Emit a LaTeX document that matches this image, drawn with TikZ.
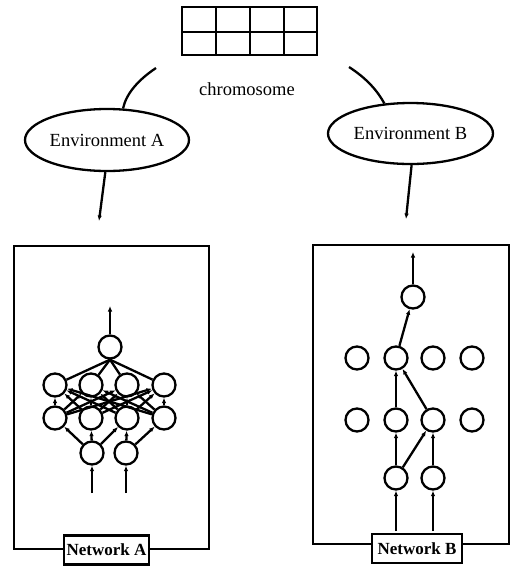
\documentclass[tikz,border=0pt]{standalone}
\usepackage{fontspec}
\setmainfont{Liberation Serif}
\usetikzlibrary{arrows.meta,shapes.geometric}
\begin{document}
\begin{tikzpicture}[x=1pt,y=-1pt,
  lw/.style={line width=2.3pt},
  env/.style={ellipse,draw,lw,inner sep=0pt,font=\fontsize{18.5}{21}\selectfont},
  neuron/.style={circle,draw,lw,minimum size=23pt,inner sep=0pt},
  conn/.style={lw,-{Latex[length=5.5pt,width=4.5pt]}},
  plain/.style={lw},
  netbox/.style={draw,line width=2.6pt},
  netlabel/.style={draw,line width=2.3pt,fill=white,inner sep=2pt,minimum height=29pt,font=\fontsize{17}{19}\bfseries\selectfont}
]
\useasboundingbox (0,0) rectangle (515,566);

% chromosome
\draw[line width=2pt] (182,7) rectangle (317,55);
\draw[line width=2pt] (216,7) -- (216,55) (250,7) -- (250,55) (284,7) -- (284,55) (182,32) -- (317,32);
\node[font=\fontsize{18.5}{21}\selectfont] (chrom) at (247,89) {chromosome};

% environments
\node[env,minimum width=164pt,minimum height=62pt] (envA) at (107,140) {Environment A};
\node[env,minimum width=165pt,minimum height=61pt] (envB) at (410.5,133.5) {Environment B};
\coordinate (cl) at (156,68);
\coordinate (cr) at (349,67);
\draw[plain] (cl) .. controls (138,80) and (126,94) .. (envA.63);
\draw[plain] (cr) .. controls (366,78) and (377,90) .. (envB.131);
\coordinate (ta) at (99,221);
\coordinate (tb) at (406,219);
\draw[conn] (envA.267) -- (ta);
\draw[conn] (envB.272) -- (tb);

% boxes
\coordinate (a1) at (14,246); \coordinate (a2) at (209,549);
\coordinate (b1) at (313,245); \coordinate (b2) at (509,544);
\draw[netbox] (a1) rectangle (a2);
\draw[netbox] (b1) rectangle (b2);
\node[netlabel,minimum width=85pt] (labA) at (106.5,550) {Network A};
\node[netlabel,minimum width=90pt] (labB) at (417,548.5) {Network B};

% Network A
\node[neuron] (Ao) at (110,347) {};
\foreach \x [count=\i] in {55,91,127,164} {
  \node[neuron] (Ah\i) at (\x,385) {};
  \node[neuron] (Ag\i) at (\x,418) {};
}
\node[neuron] (Ai1) at (92,453) {};
\node[neuron] (Ai2) at (126,453) {};
\coordinate (Ain1) at (92,493);
\coordinate (Ain2) at (126,493);
\coordinate (Aout) at (110,306);
\draw[conn] (Ain1) -- (Ai1);
\draw[conn] (Ain2) -- (Ai2);
\draw[conn] (Ai1) -- (Ag1);
\draw[conn] (Ai1) -- (Ag2);
\draw[conn] (Ai1) -- (Ag3);
\draw[conn] (Ai2) -- (Ag3);
\draw[conn] (Ai2) -- (Ag4);
\foreach \i in {1,...,4} {
  \foreach \j in {1,...,4} {
    \draw[conn] (Ag\i) -- (Ah\j);
  }
  \draw[plain] (Ah\i) -- (Ao.south);
}
\draw[conn] (Ao) -- (Aout);

% Network B
\node[neuron] (Bo) at (413,297) {};
\foreach \x [count=\i] in {357,396,433,472} {
  \node[neuron] (Bh\i) at (\x,358) {};
  \node[neuron] (Bg\i) at (\x,420) {};
}
\node[neuron] (Bi1) at (396,478) {};
\node[neuron] (Bi2) at (433,478) {};
\coordinate (Bin1) at (396,531);
\coordinate (Bin2) at (433,531);
\coordinate (Bout) at (413,252);
\draw[conn] (Bin1) -- (Bi1);
\draw[conn] (Bin2) -- (Bi2);
\draw[conn] (Bi1) -- (Bg2);
\draw[conn] (Bi1) -- (Bg3);
\draw[conn] (Bi2) -- (Bg3);
\draw[conn] (Bg2) -- (Bh2);
\draw[conn] (Bg3) -- (Bh2);
\draw[conn] (Bh2) -- (Bo);
\draw[conn] (Bo) -- (Bout);
\end{tikzpicture}
\end{document}
